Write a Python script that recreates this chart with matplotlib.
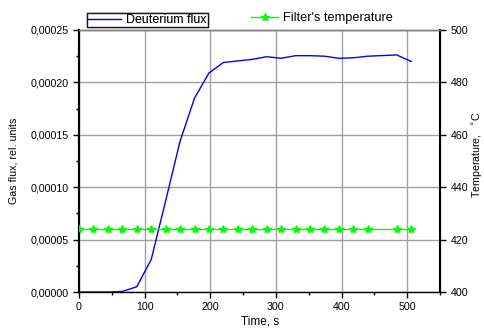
import matplotlib
matplotlib.use("Agg")
import matplotlib.pyplot as plt
from matplotlib.ticker import MultipleLocator, FuncFormatter

plt.rcParams['font.family'] = ['Liberation Sans', 'DejaVu Sans']

# Data
time_flux = [0, 22, 44, 66, 88, 110, 132, 154, 176, 198, 220, 242, 264, 286,
             308, 330, 352, 374, 396, 418, 440, 484, 506]
flux = [0.0, 0.0, 0.0, 0.0000005, 0.000005, 0.000031, 0.000087, 0.000144,
        0.000185, 0.000209, 0.000219, 0.0002205, 0.000222, 0.0002245,
        0.000223, 0.0002255, 0.0002255, 0.000225, 0.000223, 0.0002235,
        0.000225, 0.0002262, 0.00022]
time_temp = [0, 22, 44, 66, 88, 110, 132, 154, 176, 198, 220, 242, 264, 286,
             308, 330, 352, 374, 396, 418, 440, 484, 506]
temp = [424] * len(time_temp)

W, H = 485, 332
fig = plt.figure(figsize=(4.85, 3.32), dpi=100)
ax = fig.add_axes([79/W, 1-292/H, (440-79)/W, (292-30)/H])
ax2 = ax.twinx()

l1, = ax.plot(time_flux, flux, color='#0000ff', lw=1.0, label='Deuterium flux', zorder=3)
l2, = ax2.plot(time_temp, temp, color='#00ff00', lw=1.0, marker='*', ms=6,
               markerfacecolor='#00ff00', markeredgecolor='#00ff00',
               label="Filter's temperature", zorder=3)

ax.set_xlim(0, 550)
ax.set_ylim(0, 0.00025)
ax2.set_ylim(400, 500)

ax.xaxis.set_major_locator(MultipleLocator(100))
ax.xaxis.set_minor_locator(MultipleLocator(50))
ax.yaxis.set_major_locator(MultipleLocator(0.00005))
ax.yaxis.set_minor_locator(MultipleLocator(0.000025))
ax.yaxis.set_major_formatter(FuncFormatter(lambda v, p: f"{v:.5f}".replace('.', ',')))
ax2.yaxis.set_major_locator(MultipleLocator(20))

ax.grid(True, which='major', color='#a0a0a0', lw=1.0)
ax.set_axisbelow(True)

fs = 7.7
ax.tick_params(axis='both', which='major', direction='out', length=4, width=1, labelsize=fs, colors='black')
ax.tick_params(axis='both', which='minor', direction='out', length=2.5, width=1)
ax.tick_params(axis='x', pad=3)
ax2.tick_params(axis='y', which='major', direction='out', length=4, width=1, labelsize=fs)

for s in ['left', 'right']:
    ax2.spines[s].set_linewidth(1.5)
ax.spines['left'].set_linewidth(1.5)
ax.spines['bottom'].set_linewidth(1.0)
ax.spines['top'].set_color('#808080')
ax2.spines['top'].set_color('#808080')
ax.spines['top'].set_linewidth(1.0)
ax2.spines['top'].set_linewidth(1.0)
ax2.spines['bottom'].set_visible(False)

fig.text(260/W, 1-322/H, 'Time, s', fontsize=8.5, ha='center', va='center')
fig.text(14/W, 1-161/H, 'Gas flux, rel. units', fontsize=7.7, ha='center', va='center', rotation=90)
fig.text(477/W, 1-155/H, 'Temperature,   $^{\\circ}$C', fontsize=7.7, ha='center', va='center', rotation=90)

leg1 = fig.legend(handles=[l1], loc='center left', bbox_to_anchor=(87/W, 1-20/H),
                  frameon=True, fancybox=False, edgecolor='black', fontsize=9,
                  handlelength=2.6, handletextpad=0.4, borderpad=0.1, borderaxespad=0)
leg1.get_frame().set_linewidth(1.0)
leg2 = fig.legend(handles=[l2], loc='center left', bbox_to_anchor=(250/W, 1-18/H),
                  frameon=False, fontsize=9.2, handlelength=2.1, handletextpad=0.4,
                  borderpad=0.1, borderaxespad=0)
fig.add_artist(leg1)

fig.savefig('out.png', dpi=100)
